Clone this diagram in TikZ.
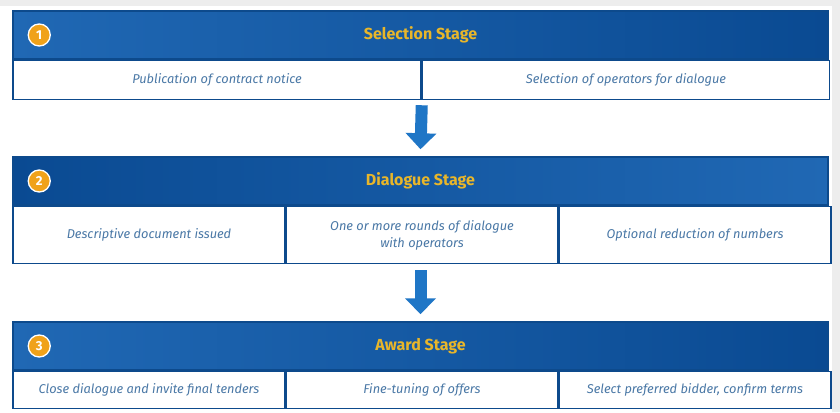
\documentclass[tikz,border=0pt]{standalone}
\usepackage{fontspec}
\setmainfont{Fira Sans}
\usetikzlibrary{positioning, fit, arrows.meta}
\definecolor{hdrdark}{HTML}{0A4A92}
\definecolor{hdrlight}{HTML}{2068B4}
\definecolor{frame}{HTML}{0D4A8C}
\definecolor{titlegold}{HTML}{E8B62A}
\definecolor{badgeorange}{HTML}{F0A21A}
\definecolor{celltext}{HTML}{4A78A6}
\definecolor{flowblue}{HTML}{1F76C6}
\tikzset{
	node distance = 0pt,
	hdr/.style = {
		minimum width = 815pt,
		minimum height = 48pt,
		inner sep = 0pt,
		draw = frame,
		line width = 1.5pt,
		left color = hdrlight,
		right color = hdrdark,
		text = titlegold,
		font = \bfseries\fontsize{16}{18}\selectfont
	},
	cell/.style = {
		inner sep = 0pt,
		draw = frame,
		line width = 1.5pt,
		fill = white,
		align = center,
		text = celltext,
		font = \itshape\fontsize{12.8}{17}\selectfont
	},
	badge/.style = {
		circle,
		minimum size = 22pt,
		inner sep = 0pt,
		fill = badgeorange,
		draw = white,
		line width = 1.3pt,
		text = white,
		font = \bfseries\fontsize{13}{14}\selectfont
	},
	flow/.style = {
		draw = flowblue,
		line width = 12pt,
		-{Triangle[width=30pt, length=16pt]}
	}
}

\begin{document}
\begin{tikzpicture}[x=1pt, y=-1pt]
		\fill[white] (0,0) rectangle (840,412);
		\fill[black!7] (0,0) rectangle (840,6);
		\fill[black!7] (832,0) rectangle (840,412);
		\useasboundingbox (0,0) rectangle (840,412);

		% selection stage
		\node[hdr] (h1) at (420.5,35) {Selection Stage};
		\node[badge] (b1) at ([xshift=27pt]h1.west) {1};
		\node[cell, minimum width=408pt, minimum height=39pt, below right=of h1.south west] (c11) {Publication of contract notice};
		\node[cell, minimum width=407pt, minimum height=39pt, right=of c11] (c12) {Selection of operators for dialogue};

		% dialogue stage
		\node[hdr, left color=hdrdark, right color=hdrlight] (h2) at (420.5,181) {Dialogue Stage};
		\node[badge] (b2) at ([xshift=27pt]h2.west) {2};
		\node[cell, minimum width=272pt, minimum height=57pt, below right=of h2.south west] (c21) {Descriptive document issued};
		\node[cell, minimum width=271pt, minimum height=57pt, right=of c21] (c22) {One or more rounds of dialogue\\with operators};
		\node[cell, minimum width=272pt, minimum height=57pt, right=of c22] (c23) {Optional reduction of numbers};

		% award stage
		\node[hdr] (h3) at (420.5,346) {Award Stage};
		\node[badge] (b3) at ([xshift=27pt]h3.west) {3};
		\node[cell, minimum width=272pt, minimum height=37pt, below right=of h3.south west] (c31) {Close dialogue and invite final tenders};
		\node[cell, minimum width=271pt, minimum height=37pt, right=of c31] (c32) {Fine-tuning of offers};
		\node[cell, minimum width=272pt, minimum height=37pt, right=of c32] (c33) {Select preferred bidder, confirm terms};

		\draw[flow] ([yshift=-5pt]c11.south east) -- ([yshift=7pt]h2.north);
		\draw[flow] ([yshift=-6pt]h2.north |- c22.south) -- ([yshift=7pt]h3.north);

	\end{tikzpicture}
\end{document}
